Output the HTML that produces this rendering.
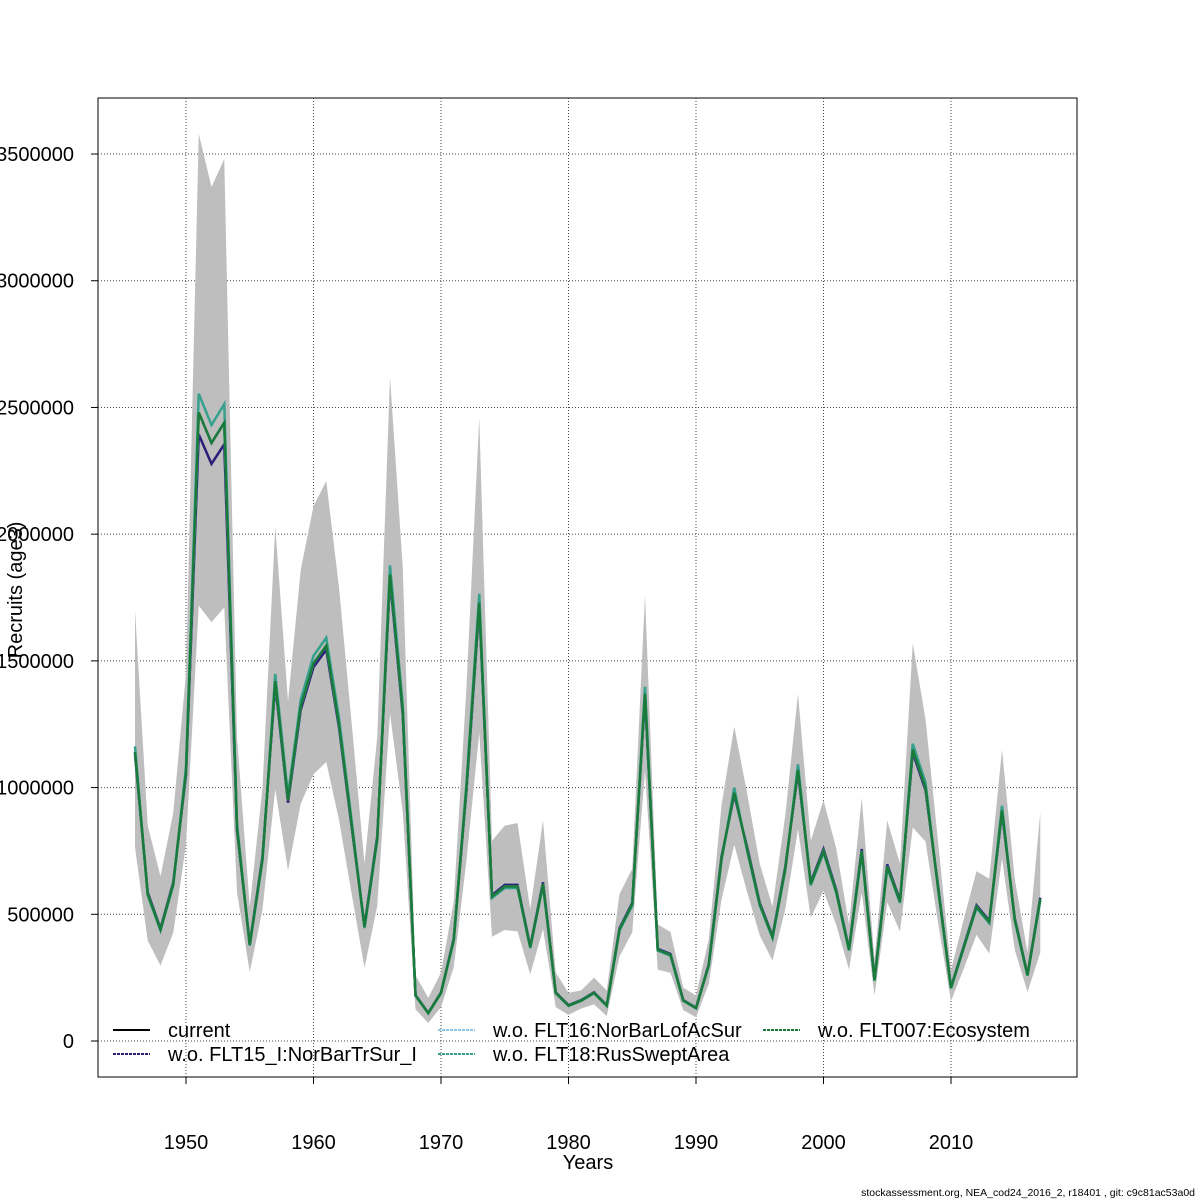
<!DOCTYPE html>
<html><head><meta charset="utf-8"><style>
html,body{margin:0;padding:0;background:#fff;}
svg{display:block;font-family:"Liberation Sans",sans-serif;}
</style></head><body>
<svg id="s" width="1200" height="1200" xmlns="http://www.w3.org/2000/svg"></svg>
<script>
const v=[1140,580,440,620,1060,2480,2360,2440,840,380,720,1420,950,1320,1490,1560,1250,850,450,800,1840,1300,180,110,190,400,1000,1730,570,610,610,370,620,190,140,160,190,140,440,540,1370,360,340,160,130,300,720,980,760,540,410,680,1070,620,750,590,360,750,240,690,550,1150,1000,600,210,370,530,470,910,480,260,560];
const u=[1700,850,650,900,1450,3580,3370,3480,1200,530,1000,2030,1340,1860,2110,2210,1790,1250,700,1200,2620,1870,260,170,270,550,1400,2460,790,850,860,520,870,270,190,200,250,200,580,680,1760,460,430,210,180,400,930,1240,980,700,530,890,1370,790,950,760,460,960,320,870,700,1570,1270,780,280,480,670,640,1150,640,350,900];
const X=y=>186+(y-1950)*12.75, Y=k=>1041-k*1000/500000*126.71;
let h='';
h+='<rect x="98" y="98" width="979" height="979" fill="none" stroke="#000" stroke-width="1"/>';
for(let yr=1950;yr<=2010;yr+=10){h+=`<line x1="${X(yr)}" y1="98" x2="${X(yr)}" y2="1077" stroke="#444" stroke-dasharray="1,2"/><line x1="${X(yr)}" y1="1077" x2="${X(yr)}" y2="1084" stroke="#000"/><text x="${X(yr)}" y="1149" font-size="20" text-anchor="middle">${yr}</text>`;}
for(let k=0;k<=3500;k+=500){h+=`<line x1="98" y1="${Y(k)}" x2="1077" y2="${Y(k)}" stroke="#444" stroke-dasharray="1,2"/><line x1="91" y1="${Y(k)}" x2="98" y2="${Y(k)}" stroke="#000"/><text x="74" y="${Y(k)+7}" font-size="20" text-anchor="end">${k*1000}</text>`;}
let up=[],lo=[];
v.forEach((a,i)=>{up.push(X(1946+i)+','+Y(u[i]));lo.unshift(X(1946+i)+','+Y(a*a/u[i]));});
h+=`<polygon points="${up.concat(lo).join(' ')}" fill="#bebebe"/>`;
function line(f,c,w,d){return `<polyline points="${v.map((a,i)=>X(1946+i)+','+Y(f(a,i))).join(' ')}" fill="none" stroke="${c}" stroke-width="${w}" ${d?'stroke-dasharray="'+d+'"':''}/>`;}
h+=line(a=>a,'#000',2.5);
h+=line((a,i)=>(i>=5&&i<=7)?a*0.965:(a>800?a*0.99:a*1.01),'#2b1d7a',2.5);
h+=line((a,i)=>a,'#87ceeb',2.5);
h+=line((a,i)=>(i>=5&&i<=7)?a*1.03:(a>800?a*1.02:a*0.99),'#35a08c',2.5);
h+=line(a=>a,'#1a7a3a',2.5);
const L=[[113,1030,'#000','current',null],[113,1054,'#2b1d7a','w.o. FLT15_I:NorBarTrSur_I','3,1'],[438,1030,'#87ceeb','w.o. FLT16:NorBarLofAcSur','3,1'],[438,1054,'#35a08c','w.o. FLT18:RusSweptArea','3,1'],[763,1030,'#1a7a3a','w.o. FLT007:Ecosystem','3,1']];
L.forEach(([x,y,c,t,d])=>{h+=`<line x1="${x}" y1="${y}" x2="${x+37}" y2="${y}" stroke="${c}" stroke-width="2" ${d?'stroke-dasharray="'+d+'"':''}/><text x="${x+55}" y="${y+7}" font-size="20">${t}</text>`;});
h+='<text x="588" y="1169" font-size="20" text-anchor="middle">Years</text>';
h+='<text transform="translate(22,590) rotate(-90)" font-size="20" text-anchor="middle">Recruits (age3)</text>';
h+='<text x="1195" y="1196" font-size="10.5" text-anchor="end">stockassessment.org, NEA_cod24_2016_2, r18401 , git: c9c81ac53a0d</text>';
document.getElementById('s').innerHTML=h;
</script>
</body></html>
